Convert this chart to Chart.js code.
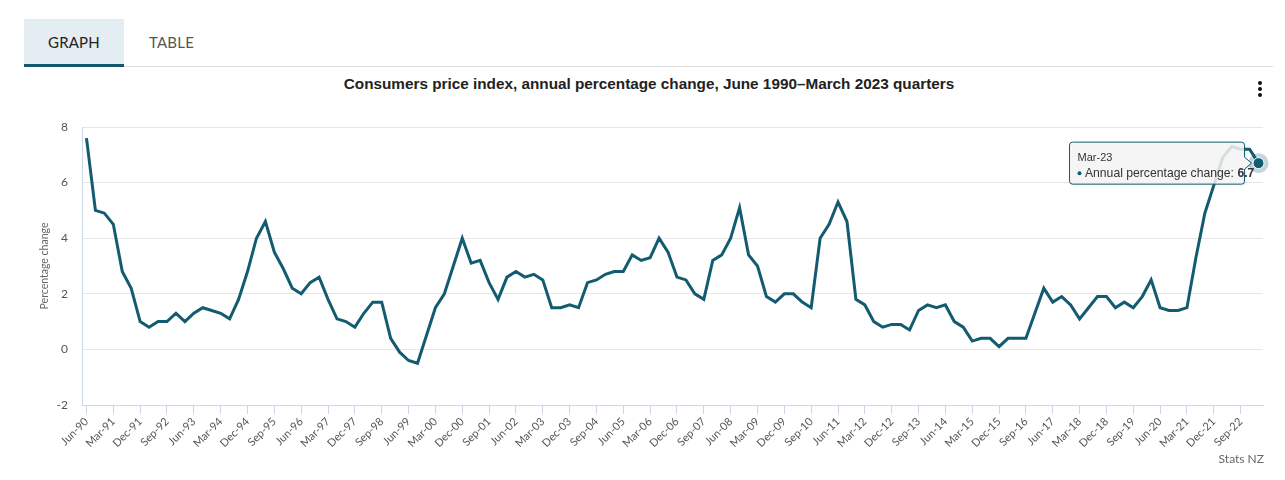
<!DOCTYPE html>
<html>
<head>
<meta charset="utf-8">
<script src="https://cdn.jsdelivr.net/npm/chart.js@4.4.0/dist/chart.umd.min.js"></script>
<style>
  html,body{margin:0;padding:0;background:#fff;}
  body{width:1285px;height:480px;position:relative;overflow:hidden;font-family:"Open Sans",Lato,sans-serif;}
  #tabs{position:absolute;left:24px;top:19px;height:45px;}
  .tab{position:absolute;top:0;height:45px;line-height:47px;font-size:15px;text-align:center;font-family:Lato,"Open Sans",sans-serif;letter-spacing:0.2px;}
  #t1{left:0;width:100px;background:#e4edf1;color:#222;border-bottom:3px solid #14566b;}
  #t2{left:100px;width:95px;color:#555;}
  #rule{position:absolute;left:124px;top:66px;width:1149px;height:1px;background:#dcdcdc;}
  #title{position:absolute;left:0;width:1298px;top:75px;text-align:center;font-family:"Liberation Sans",Arial,sans-serif;font-weight:bold;font-size:15.3px;color:#222;}
  #menu{position:absolute;left:1258px;top:81px;width:6px;}
  #menu i{display:block;width:4px;height:4px;border-radius:2px;background:#111;margin-bottom:2px;}
  #wrap{position:absolute;left:0;top:0;width:1285px;height:480px;}
</style>
</head>
<body>
<div id="tabs"><div class="tab" id="t1">GRAPH</div><div class="tab" id="t2">TABLE</div></div>
<div id="rule"></div>
<div id="title">Consumers price index, annual percentage change, June 1990–March 2023 quarters</div>
<div id="menu"><i></i><i></i><i></i></div>
<div id="wrap"><canvas id="c" width="1285" height="480"></canvas></div>
<script>
const quarters = [
 'Jun-90','Sep-90','Dec-90',
 'Mar-91','Jun-91','Sep-91','Dec-91',
 'Mar-92','Jun-92','Sep-92','Dec-92',
 'Mar-93','Jun-93','Sep-93','Dec-93',
 'Mar-94','Jun-94','Sep-94','Dec-94',
 'Mar-95','Jun-95','Sep-95','Dec-95',
 'Mar-96','Jun-96','Sep-96','Dec-96',
 'Mar-97','Jun-97','Sep-97','Dec-97',
 'Mar-98','Jun-98','Sep-98','Dec-98',
 'Mar-99','Jun-99','Sep-99','Dec-99',
 'Mar-00','Jun-00','Sep-00','Dec-00',
 'Mar-01','Jun-01','Sep-01','Dec-01',
 'Mar-02','Jun-02','Sep-02','Dec-02',
 'Mar-03','Jun-03','Sep-03','Dec-03',
 'Mar-04','Jun-04','Sep-04','Dec-04',
 'Mar-05','Jun-05','Sep-05','Dec-05',
 'Mar-06','Jun-06','Sep-06','Dec-06',
 'Mar-07','Jun-07','Sep-07','Dec-07',
 'Mar-08','Jun-08','Sep-08','Dec-08',
 'Mar-09','Jun-09','Sep-09','Dec-09',
 'Mar-10','Jun-10','Sep-10','Dec-10',
 'Mar-11','Jun-11','Sep-11','Dec-11',
 'Mar-12','Jun-12','Sep-12','Dec-12',
 'Mar-13','Jun-13','Sep-13','Dec-13',
 'Mar-14','Jun-14','Sep-14','Dec-14',
 'Mar-15','Jun-15','Sep-15','Dec-15',
 'Mar-16','Jun-16','Sep-16','Dec-16',
 'Mar-17','Jun-17','Sep-17','Dec-17',
 'Mar-18','Jun-18','Sep-18','Dec-18',
 'Mar-19','Jun-19','Sep-19','Dec-19',
 'Mar-20','Jun-20','Sep-20','Dec-20',
 'Mar-21','Jun-21','Sep-21','Dec-21',
 'Mar-22','Jun-22','Sep-22','Dec-22',
 'Mar-23'
];
const annualChange = [
 7.6,5.0,4.9,
 4.5,2.8,2.2,1.0,
 0.8,1.0,1.0,1.3,
 1.0,1.3,1.5,1.4,
 1.3,1.1,1.8,2.8,
 4.0,4.6,3.5,2.9,
 2.2,2.0,2.4,2.6,
 1.8,1.1,1.0,0.8,
 1.3,1.7,1.7,0.4,
 -0.1,-0.4,-0.5,0.5,
 1.5,2.0,3.0,4.0,
 3.1,3.2,2.4,1.8,
 2.6,2.8,2.6,2.7,
 2.5,1.5,1.5,1.6,
 1.5,2.4,2.5,2.7,
 2.8,2.8,3.4,3.2,
 3.3,4.0,3.5,2.6,
 2.5,2.0,1.8,3.2,
 3.4,4.0,5.1,3.4,
 3.0,1.9,1.7,2.0,
 2.0,1.7,1.5,4.0,
 4.5,5.3,4.6,1.8,
 1.6,1.0,0.8,0.9,
 0.9,0.7,1.4,1.6,
 1.5,1.6,1.0,0.8,
 0.3,0.4,0.4,0.1,
 0.4,0.4,0.4,1.3,
 2.2,1.7,1.9,1.6,
 1.1,1.5,1.9,1.9,
 1.5,1.7,1.5,1.9,
 2.5,1.5,1.4,1.4,
 1.5,3.3,4.9,5.9,
 6.9,7.3,7.2,7.2,
 6.7
];
const yTicks = [-2,0,2,4,6,8];
const seriesName = 'Annual percentage change';
const yTitle = 'Percentage change';
const source = 'Stats NZ';
const lineColor = '#125b70';

const overlay = {
  id:'overlay',
  afterDatasetsDraw(chart){
    const ctx = chart.ctx;
    const meta = chart.getDatasetMeta(0);
    const i = annualChange.length-1;
    const p = meta.data[i];
    ctx.save();
    ctx.beginPath(); ctx.arc(p.x,p.y,10,0,Math.PI*2);
    ctx.fillStyle='rgba(18,91,112,0.25)'; ctx.fill();
    ctx.beginPath(); ctx.arc(p.x,p.y,5.5,0,Math.PI*2);
    ctx.fillStyle=lineColor; ctx.fill();
    ctx.lineWidth=1; ctx.strokeStyle='#fff'; ctx.stroke();
    const bw=175,bh=42;
    const right=p.x-14, left=right-bw, top=p.y-21;
    ctx.beginPath();
    ctx.moveTo(left+3,top);
    ctx.lineTo(right-3,top);
    ctx.quadraticCurveTo(right,top,right,top+3);
    ctx.lineTo(right,p.y-6);
    ctx.lineTo(right+7,p.y);
    ctx.lineTo(right,p.y+6);
    ctx.lineTo(right,top+bh-3);
    ctx.quadraticCurveTo(right,top+bh,right-3,top+bh);
    ctx.lineTo(left+3,top+bh);
    ctx.quadraticCurveTo(left,top+bh,left,top+bh-3);
    ctx.lineTo(left,top+3);
    ctx.quadraticCurveTo(left,top,left+3,top);
    ctx.closePath();
    ctx.shadowColor='rgba(0,0,0,0.12)'; ctx.shadowOffsetX=1; ctx.shadowOffsetY=1; ctx.shadowBlur=2;
    ctx.fillStyle='rgba(247,247,247,0.85)'; ctx.fill();
    ctx.shadowColor='transparent';
    ctx.strokeStyle=lineColor; ctx.lineWidth=1; ctx.stroke();
    ctx.fillStyle='#333'; ctx.textBaseline='middle'; ctx.textAlign='left';
    ctx.font='11px "Liberation Sans", Arial, sans-serif';
    ctx.fillText(quarters[i], left+8, top+16);
    ctx.beginPath(); ctx.arc(left+10,top+31,2,0,Math.PI*2); ctx.fillStyle=lineColor; ctx.fill();
    ctx.fillStyle='#333';
    ctx.font='12.2px "Liberation Sans", Arial, sans-serif';
    const t1=' '+seriesName+': ';
    ctx.fillText(t1, left+12, top+31);
    const w1=ctx.measureText(t1).width;
    ctx.font='bold 12.2px "Liberation Sans", Arial, sans-serif';
    ctx.fillText(annualChange[i].toFixed(1), left+12+w1, top+31);
    ctx.font='12px Lato, "Open Sans", sans-serif';
    ctx.fillStyle='#666'; ctx.textAlign='right';
    ctx.fillText(source, 1264, 459);
    ctx.restore();
  }
};

new Chart(document.getElementById('c'),{
  type:'line',
  data:{labels:quarters,datasets:[{label:seriesName,data:annualChange,borderColor:lineColor,borderWidth:3,pointRadius:0,tension:0,fill:false}]},
  options:{
    responsive:false,animation:false,
    layout:{padding:{top:127,right:22,left:0,bottom:0}},
    plugins:{legend:{display:false},tooltip:{enabled:false}},
    scales:{
      x:{
        type:'category',offset:true,
        grid:{offset:false,drawOnChartArea:false,tickLength:9,color:'#ccd6eb',tickColor:'#ccd6eb'},
        border:{color:'#ccd6eb'},
        ticks:{autoSkip:false,maxRotation:45,minRotation:45,padding:1,color:'#555',font:{family:'Lato, "Open Sans", sans-serif',size:11},
          callback:function(v,idx){return idx%3===0?quarters[idx]:null;}},
        afterFit(s){s.height=75;}
      },
      y:{
        min:-2,max:8,
        afterBuildTicks(s){s.ticks=yTicks.map(v=>({value:v}));},
        grid:{color:'#e6e6e6',drawTicks:false},
        border:{color:'#ccd6eb'},
        ticks:{padding:14,color:'#555',font:{family:'Lato, "Open Sans", sans-serif',size:12}},
        title:{display:true,text:yTitle,color:'#666',font:{family:'Lato, "Open Sans", sans-serif',size:10.5},padding:{top:38,bottom:0}},
        afterFit(s){s.width=82;}
      }
    }
  },
  plugins:[overlay]
});
</script>
</body>
</html>
